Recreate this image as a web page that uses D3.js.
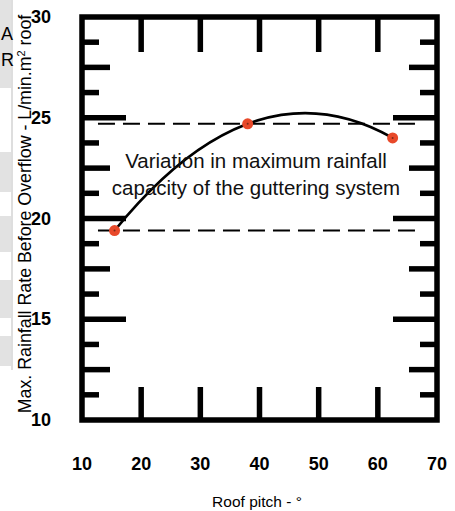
<!DOCTYPE html>
<html>
<head>
<meta charset="utf-8">
<script src="https://cdn.jsdelivr.net/npm/d3@7"></script>
<style>
  body { margin: 0; background: #fff; }
  svg { display: block; font-family: "Liberation Sans", Arial, sans-serif; }
</style>
</head>
<body>
<div id="chart"></div>
<script>
// roof pitch (deg) vs max rainfall rate before overflow
const pitch = [15.5, 38, 62.5];
const rate = [19.4, 24.7, 24.0];
const xTicks = [10, 20, 30, 40, 50, 60, 70];
const yTicks = [10, 15, 20, 25, 30];
const limits = [24.7, 19.4];          // dashed band: max / min capacity
const limitSpan = [12.7, 67];
const note = ["Variation in maximum rainfall", "capacity of the guttering system"];

const width = 455, height = 511;
const margin = { top: 17, right: 18, bottom: 91, left: 82 };

const svg = d3.select("#chart").append("svg")
    .attr("width", width)
    .attr("height", height);

// cropped page strip on the left
const strip = svg.append("g");
[[0, 88], [152, 192], [216, 252], [280, 318], [336, 366]].forEach(b => {
    strip.append("rect").attr("x", 0).attr("y", b[0]).attr("width", 11).attr("height", b[1] - b[0]).attr("fill", "#e2e2e2");
});
strip.append("line").attr("x1", 12).attr("x2", 12).attr("y1", 0).attr("y2", 370)
    .attr("stroke", "#bdbdbd").attr("stroke-width", 1);
strip.append("text").attr("x", 1).attr("y", 40).attr("font-size", 18).text("A");
strip.append("text").attr("x", 1).attr("y", 66).attr("font-size", 18).text("R");

const x = d3.scaleLinear().domain([10, 70]).range([margin.left, width - margin.right]);
const y = d3.scaleLinear().domain([10, 30]).range([height - margin.bottom, margin.top]);

const frame = svg.append("g").attr("stroke", "#000").attr("stroke-width", 5.5);

// inward ticks on left & right every 1.25
const minor = d3.range(11.25, 30, 1.25);
const tickLen = v => v % 5 === 0 ? 44 : (v % 2.5 === 0 ? 28 : 17);
frame.selectAll(".lt").data(minor).join("line")
    .attr("x1", x(10)).attr("x2", d => x(10) + tickLen(d))
    .attr("y1", d => y(d)).attr("y2", d => y(d));
frame.selectAll(".rt").data(minor).join("line")
    .attr("x1", x(70)).attr("x2", d => x(70) - tickLen(d))
    .attr("y1", d => y(d)).attr("y2", d => y(d));

// top & bottom ticks
const inner = xTicks.slice(1, -1);
frame.selectAll(".tt").data(inner).join("line")
    .attr("x1", d => x(d)).attr("x2", d => x(d))
    .attr("y1", y(30)).attr("y2", y(30) + 35);
frame.selectAll(".bt").data(inner).join("line")
    .attr("x1", d => x(d)).attr("x2", d => x(d))
    .attr("y1", y(10)).attr("y2", y(10) - 33);

frame.append("rect")
    .attr("x", x(10)).attr("y", y(30))
    .attr("width", x(70) - x(10)).attr("height", y(10) - y(30))
    .attr("fill", "none").attr("stroke-linejoin", "miter");

// tick labels
svg.append("g").selectAll("text").data(xTicks).join("text")
    .attr("x", d => x(d)).attr("y", 470)
    .attr("text-anchor", "middle")
    .attr("font-size", 18).attr("font-weight", "bold")
    .text(d => d);
svg.append("g").selectAll("text").data(yTicks).join("text")
    .attr("x", 51).attr("y", d => y(d) + 6)
    .attr("text-anchor", "end")
    .attr("font-size", 18).attr("font-weight", "bold")
    .text(d => d);

// axis titles
svg.append("text")
    .attr("x", 257).attr("y", 507)
    .attr("text-anchor", "middle").attr("font-size", 15.5)
    .text("Roof pitch - \u00b0");
svg.append("text")
    .attr("transform", `translate(31,${214}) rotate(-90)`)
    .attr("text-anchor", "middle").attr("font-size", 17.8)
    .html("Max. Rainfall Rate Before Overflow - L/min.m<tspan dy='-6' font-size='11'>2</tspan><tspan dy='6'> roof</tspan>");

// dashed limits
svg.append("g").selectAll("line").data(limits).join("line")
    .attr("x1", x(limitSpan[0])).attr("x2", x(limitSpan[1]))
    .attr("y1", d => y(d)).attr("y2", d => y(d))
    .attr("stroke", "#000").attr("stroke-width", 2)
    .attr("stroke-dasharray", "17,8");

// parabola through the three readings drawn as a quadratic bezier
const [x0, x1, x2] = pitch, [y0, y1, y2] = rate;
const slope0 = (y1 - y0) / (x1 - x0) + (x0 - x1) * ((y2 - y1) / (x2 - x1) - (y1 - y0) / (x1 - x0)) / (x2 - x0);
const cx = (x0 + x2) / 2, cy = y0 + slope0 * (cx - x0);
const p = d3.path();
p.moveTo(x(x0), y(y0));
p.quadraticCurveTo(x(cx), y(cy), x(x2), y(y2));
svg.append("path").attr("d", p.toString())
    .attr("fill", "none").attr("stroke", "#000").attr("stroke-width", 2.5);

const pts = svg.append("g").selectAll("g").data(pitch).join("g")
    .attr("transform", (d, i) => `translate(${x(d)},${y(rate[i])})`);
pts.append("circle").attr("r", 5.5).attr("fill", "#e8492a");
pts.append("circle").attr("r", 1).attr("fill", "#7a2a1a");

// annotation
svg.append("g").selectAll("text").data(note).join("text")
    .attr("x", 256).attr("y", (d, i) => 168 + i * 27)
    .attr("text-anchor", "middle").attr("font-size", 20.5)
    .attr("fill", "#111")
    .text(d => d);
</script>
</body>
</html>
